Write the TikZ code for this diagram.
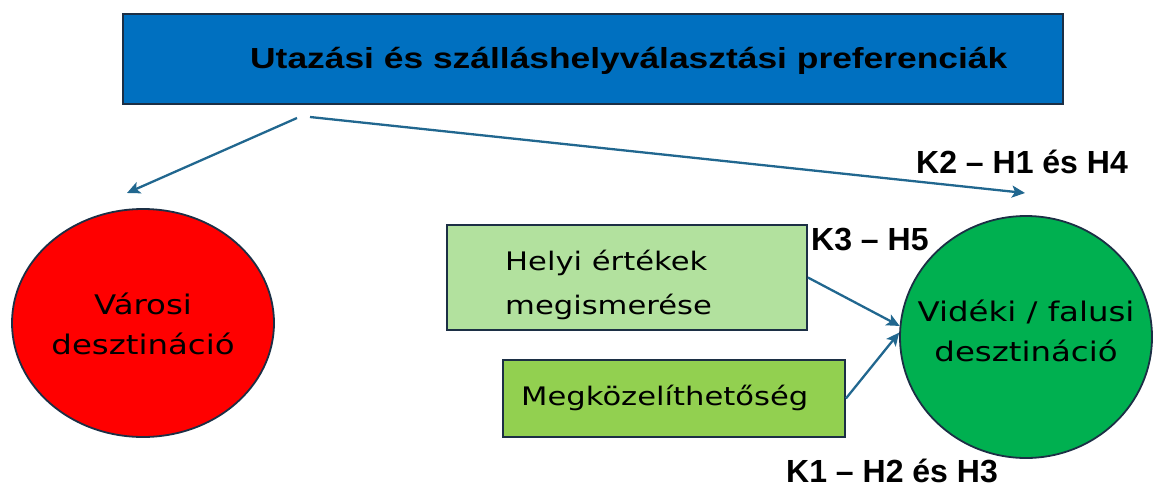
\documentclass[tikz,border=0pt]{standalone}
\usepackage{fontspec}
\usepackage{graphicx}
\usetikzlibrary{arrows.meta,shapes.geometric}
\newfontfamily\bodyfont[FakeStretch=1.2]{DejaVu Sans}
\newfontfamily\labfont{Liberation Sans}
\newfontfamily\titlefont[FakeStretch=1.22]{Liberation Sans}
\definecolor{boxblue}{HTML}{0070C0}
\definecolor{edgedark}{HTML}{1C2F45}
\definecolor{cityred}{HTML}{FF0000}
\definecolor{ruralgreen}{HTML}{00B050}
\definecolor{lightgreen}{HTML}{B2E19E}
\definecolor{midgreen}{HTML}{92D050}
\definecolor{arrowblue}{HTML}{21678F}
\tikzset{
  framed/.style={draw=edgedark, line width=1.8pt, inner sep=0pt},
  boxshape/.style={framed, rectangle},
  ellshape/.style={framed, ellipse},
  conn/.style={draw=arrowblue, line width=2.3pt, -{Stealth[length=13pt,width=12pt,inset=3pt]}},
  klabel/.style={anchor=base west, inner sep=0pt, font=\labfont\bfseries\fontsize{32}{36}\selectfont},
  bodytext/.style={inner sep=0pt, align=left, font=\bodyfont\fontsize{25.5}{44}\selectfont},
  elltext/.style={inner sep=0pt, align=center, font=\bodyfont\fontsize{27}{40}\selectfont}
}
\begin{document}
\begin{tikzpicture}[x=1pt,y=-1pt]
\useasboundingbox (0,0) rectangle (1155,487);
% title
\node[boxshape, fill=boxblue, minimum width=940pt, minimum height=90pt] (title) at (593,59) {};
\node[anchor=base west, inner sep=0pt] (titletext) at (250,68)
  {\titlefont\bfseries\fontsize{29}{34}\selectfont Utazási és szálláshelyválasztási preferenciák};
% ellipses
\node[ellshape, fill=cityred, minimum width=262pt, minimum height=228pt] (varos) at (143,323) {};
\node[elltext] (varostext) at (143,324) {Városi\\desztináció};
\node[ellshape, fill=ruralgreen, minimum width=252pt, minimum height=242pt] (videk) at (1026,337) {};
\node[elltext] (videktext) at (1026,331) {Vidéki / falusi\\desztináció};
% boxes
\node[boxshape, fill=lightgreen, minimum width=360pt, minimum height=105pt] (helyi) at (627,277.5) {};
\node[bodytext, anchor=west] (helyitext) at (505,285) {Helyi értékek\\megismerése};
\node[boxshape, fill=midgreen, minimum width=342pt, minimum height=77pt] (megk) at (674,398.5) {};
\node[bodytext, anchor=base west] (megktext) at (521,405) {Megközelíthetőség};
% free ends
\coordinate (s1) at (297,118);
\coordinate (t1) at (127,193);
\coordinate (s2) at (310,117);
\coordinate (t2) at (1025,193);
% connectors
\draw[conn] (s1) -- (t1);
\draw[conn] (s2) -- (t2);
\draw[conn] (helyi.east) -- (videk.175);
\draw[conn] (megk.east) -- (videk.178);
% labels
\node[klabel] (k2) at (916,173) {K2 – H1 és H4};
\node[klabel] (k3) at (811,250) {K3 – H5};
\node[klabel] (k1) at (786,482) {K1 – H2 és H3};
\end{tikzpicture}
\end{document}
